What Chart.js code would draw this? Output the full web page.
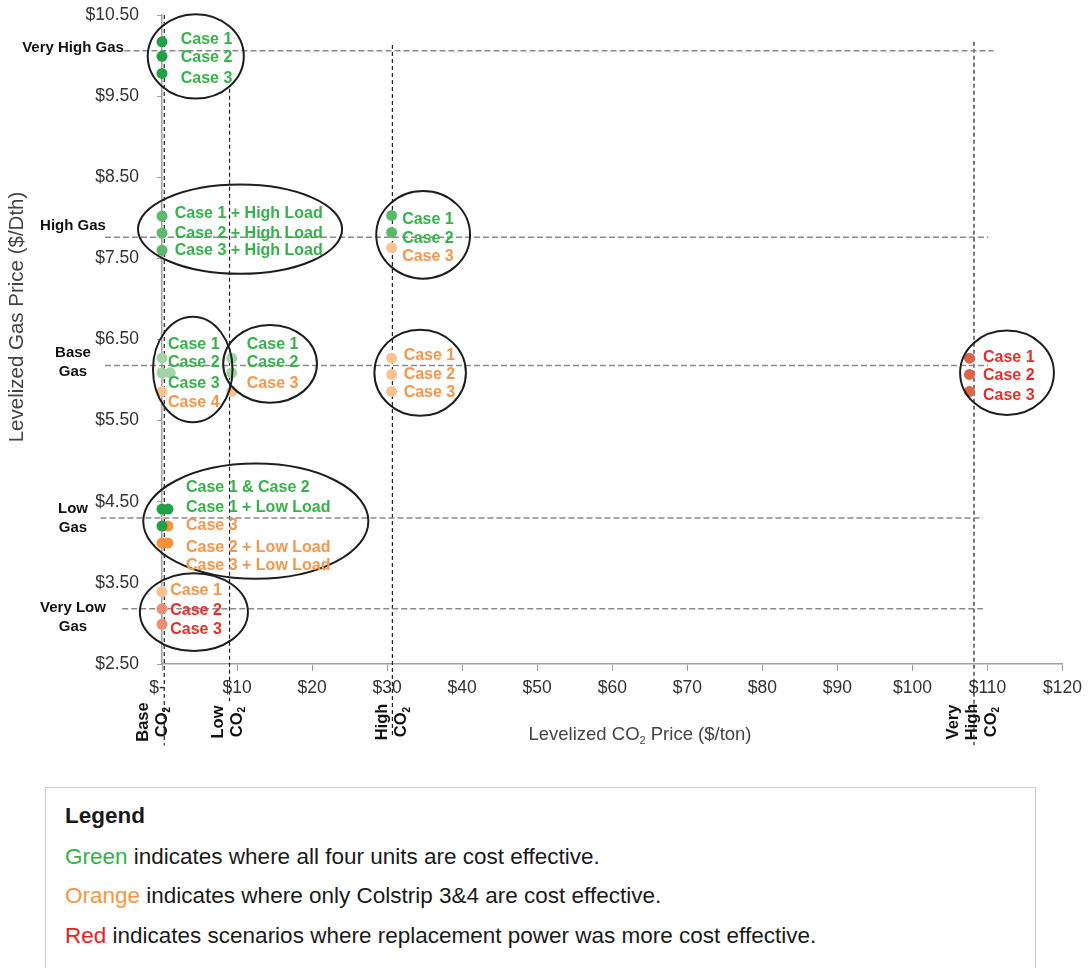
<!DOCTYPE html>
<html>
<head>
<meta charset="utf-8">
<script src="https://cdn.jsdelivr.net/npm/chart.js@4.4.1/dist/chart.umd.min.js"></script>
<style>
  body { margin: 0; background: #fff; font-family: "Liberation Sans", Arial, sans-serif; }
  #wrap { position: relative; width: 1089px; height: 968px; overflow: hidden; }
  #chart { position: absolute; left: 0; top: 0; }
  #legend { position: absolute; left: 45px; top: 787px; width: 991px; height: 240px; border: 1px solid #cfcfcf; box-sizing: border-box; color: #1a1a1a; }
  #legend div { position: absolute; left: 19px; font-size: 22.5px; white-space: nowrap; line-height: 26px; }
  #legend .head { font-weight: bold; top: 15px; }
</style>
</head>
<body>
<div id="wrap">
  <canvas id="chart" width="1089" height="780"></canvas>
  <div id="legend">
    <div class="head">Legend</div>
    <div style="top:56px"><span style="color:#35b04a">Green</span> indicates where all four units are cost effective.</div>
    <div style="top:95px"><span style="color:#f7963f">Orange</span> indicates where only Colstrip 3&amp;4 are cost effective.</div>
    <div style="top:135px"><span style="color:#ec1c24">Red</span> indicates scenarios where replacement power was more cost effective.</div>
  </div>
</div>
<script>
// ticks
var xTickVals = [0, 10, 20, 30, 40, 50, 60, 70, 80, 90, 100, 110, 120];
var yTickVals = [2.5, 3.5, 4.5, 5.5, 6.5, 7.5, 8.5, 9.5, 10.5];

// scenario points, grouped by colour shade
var darkGreenX = [0, 0, 0, 0, 0.8, 0];
var darkGreenY = [10.17, 9.99, 9.78, 4.41, 4.41, 4.20];
var midGreenX = [0, 0, 0, 30.6, 30.6];
var midGreenY = [8.02, 7.81, 7.60, 8.03, 7.82];
var lightGreenX = [0, 0, 1.1, 9.3, 9.3];
var lightGreenY = [6.27, 6.09, 6.09, 6.27, 6.09];
var darkOrangeX = [0.8, 0, 0.8];
var darkOrangeY = [4.20, 3.99, 3.99];
var lightOrangeX = [0, 9.3, 30.6, 30.6, 30.6, 30.6, 0];
var lightOrangeY = [5.86, 5.86, 7.63, 6.27, 6.07, 5.86, 3.39];
var redX = [107.6, 107.6, 107.6];
var redY = [6.27, 6.07, 5.86];
var salmonX = [0, 0];
var salmonY = [3.18, 2.99];

// scenario reference levels
var gasLevels = [10.06, 7.76, 6.18, 4.30, 3.18];
var gasNames = [['Very High Gas'], ['High Gas'], ['Base', 'Gas'], ['Low', 'Gas'], ['Very Low', 'Gas']];
var gasNameY = [10.09, 7.90, 6.22, 4.30, 3.08];
var gasLineFrom = [-5, -7.6, -7.6, -8.2, -5.3];
var gasLineTo = [110.8, 110.1, 110.1, 109.4, 109.4];

var co2Levels = [0.3, 9.0, 30.7, 108.2];
var co2Names = [['Base', 'CO2'], ['Low', 'CO2'], ['High', 'CO2'], ['Very', 'High', 'CO2']];
var co2NameX = [-1.2, 8.8, 30.7, 108.0];
var co2LineTop = [10.5, 9.59, 10.13, 10.17];
var co2LineBottom = [1.5, 2.04, 1.6, 1.5];

// case labels
var labelText = [
  'Case 1', 'Case 2', 'Case 3',
  'Case 1 + High Load', 'Case 2 + High Load', 'Case 3 + High Load',
  'Case 1', 'Case 2', 'Case 3',
  'Case 1', 'Case 2', 'Case 3', 'Case 4',
  'Case 1', 'Case 2', 'Case 3',
  'Case 1', 'Case 2', 'Case 3',
  'Case 1', 'Case 2', 'Case 3',
  'Case 1 & Case 2', 'Case 1 + Low Load', 'Case 3', 'Case 2 + Low Load', 'Case 3 + Low Load',
  'Case 1', 'Case 2', 'Case 3'
];
var labelX = [
  2.5, 2.5, 2.5,
  1.7, 1.7, 1.7,
  32.0, 32.0, 32.0,
  0.8, 0.8, 0.8, 0.8,
  11.3, 11.3, 11.3,
  32.2, 32.2, 32.2,
  109.4, 109.4, 109.4,
  3.2, 3.2, 3.2, 3.2, 3.2,
  1.1, 1.1, 1.1
];
var labelY = [
  10.20, 9.97, 9.72,
  8.05, 7.81, 7.59,
  7.98, 7.75, 7.52,
  6.44, 6.21, 5.96, 5.72,
  6.44, 6.21, 5.96,
  6.30, 6.07, 5.84,
  6.28, 6.05, 5.81,
  4.67, 4.43, 4.20, 3.94, 3.71,
  3.40, 3.16, 2.93
];
var labelTone = [
  'g', 'g', 'g',
  'g', 'g', 'g',
  'g', 'g', 'o',
  'g', 'g', 'g', 'o',
  'g', 'g', 'o',
  'o', 'o', 'o',
  'r', 'r', 'r',
  'g', 'g', 'o', 'o', 'o',
  'o', 'r', 'r'
];

// circles around the groups (centre and radii in axis units)
var ringX = [4.5, 10.4, 34.8, 4.1, 14.4, 34.4, 112.6, 12.5, 4.25];
var ringY = [9.99, 7.86, 7.79, 6.13, 6.20, 6.09, 6.09, 4.26, 3.14];
var ringRx = [6.4, 13.6, 6.25, 5.3, 6.25, 6.1, 6.25, 15.0, 7.2];
var ringRy = [0.52, 0.55, 0.54, 0.65, 0.48, 0.53, 0.52, 0.71, 0.48];

var toneColor = { g: '#37b24a', o: '#f7964a', r: '#e2302b' };
var FONT = '"Liberation Sans", Arial, sans-serif';

function pts(xs, ys) {
  return xs.map(function (x, i) { return { x: x, y: ys[i] }; });
}

function dotSet(xs, ys, color) {
  return { data: pts(xs, ys), backgroundColor: color, borderWidth: 0, pointRadius: 5.5, clip: false, order: 1 };
}

var datasets = [];
gasLevels.forEach(function (g, i) {
  datasets.push({
    data: [{ x: gasLineFrom[i], y: g }, { x: gasLineTo[i], y: g }],
    showLine: true, pointRadius: 0, borderColor: '#8a8a8a', borderWidth: 1.5,
    borderDash: [6, 3], clip: false, order: 10
  });
});
co2Levels.forEach(function (c, i) {
  datasets.push({
    data: [{ x: c, y: co2LineTop[i] }, { x: c, y: co2LineBottom[i] }],
    showLine: true, pointRadius: 0, borderColor: '#222', borderWidth: 1.2,
    borderDash: [4, 3], clip: false, order: 10
  });
});
datasets.push(dotSet(darkGreenX, darkGreenY, '#22a045'));
datasets.push(dotSet(midGreenX, midGreenY, '#5cb96c'));
datasets.push(dotSet(lightGreenX, lightGreenY, '#a3d4a8'));
datasets.push(dotSet(darkOrangeX, darkOrangeY, '#f6913c'));
datasets.push(dotSet(lightOrangeX, lightOrangeY, '#f9c293'));
datasets.push(dotSet(redX, redY, '#e0604a'));
datasets.push(dotSet(salmonX, salmonY, '#ee8d74'));

// text with a subscript "2" after CO
function drawCO2Text(ctx, str, x, y, size, weight) {
  var parts = str.split('CO2');
  var segs = [];
  parts.forEach(function (p, i) {
    if (i > 0) { segs.push(['CO', false]); segs.push(['2', true]); }
    if (p) segs.push([p, false]);
  });
  var big = weight + ' ' + size + 'px ' + FONT;
  var small = weight + ' ' + Math.round(size * 0.62) + 'px ' + FONT;
  var total = 0;
  segs.forEach(function (s) { ctx.font = s[1] ? small : big; total += ctx.measureText(s[0]).width; });
  var cx = x - total / 2;
  ctx.textAlign = 'left';
  segs.forEach(function (s) {
    ctx.font = s[1] ? small : big;
    ctx.fillText(s[0], cx, s[1] ? y + size * 0.3 : y);
    cx += ctx.measureText(s[0]).width;
  });
}

var annotations = {
  id: 'annotations',
  afterDatasetsDraw: function (chart) {
    var ctx = chart.ctx, xs = chart.scales.x, ys = chart.scales.y;
    ctx.save();

    ctx.strokeStyle = '#1e1e1e';
    ctx.lineWidth = 2;
    for (var i = 0; i < ringX.length; i++) {
      var cx = xs.getPixelForValue(ringX[i]), cy = ys.getPixelForValue(ringY[i]);
      var rx = Math.abs(xs.getPixelForValue(ringX[i] + ringRx[i]) - cx);
      var ry = Math.abs(ys.getPixelForValue(ringY[i] + ringRy[i]) - cy);
      ctx.beginPath();
      ctx.ellipse(cx, cy, rx, ry, 0, 0, 2 * Math.PI);
      ctx.stroke();
    }

    ctx.font = 'bold 16px ' + FONT;
    ctx.textAlign = 'left';
    ctx.textBaseline = 'middle';
    for (var j = 0; j < labelText.length; j++) {
      ctx.fillStyle = toneColor[labelTone[j]];
      ctx.fillText(labelText[j], xs.getPixelForValue(labelX[j]), ys.getPixelForValue(labelY[j]));
    }

    // gas scenario names on the left
    ctx.fillStyle = '#111';
    ctx.font = 'bold 15px ' + FONT;
    ctx.textAlign = 'center';
    gasNames.forEach(function (lines, k) {
      var y0 = ys.getPixelForValue(gasNameY[k]) - (lines.length - 1) * 9.5;
      lines.forEach(function (t, n) { ctx.fillText(t, 73, y0 + n * 19); });
    });

    // CO2 scenario names under the x axis, rotated
    co2Names.forEach(function (lines, k) {
      var gx = xs.getPixelForValue(co2NameX[k]);
      ctx.save();
      ctx.translate(gx - (lines.length - 1) * 9.5, 722);
      ctx.rotate(-Math.PI / 2);
      lines.forEach(function (t, n) {
        ctx.save();
        ctx.translate(0, n * 19);
        drawCO2Text(ctx, t, 0, 0, 16.5, 'bold');
        ctx.restore();
      });
      ctx.restore();
    });

    // axis titles
    ctx.fillStyle = '#444';
    drawCO2Text(ctx, 'Levelized CO2 Price ($/ton)', 640, 735, 18.5, 'normal');
    ctx.translate(17, 317);
    ctx.rotate(-Math.PI / 2);
    drawCO2Text(ctx, 'Levelized Gas Price ($/Dth)', 0, 0, 20.5, 'normal');

    ctx.restore();
  }
};

new Chart(document.getElementById('chart'), {
  type: 'scatter',
  data: { datasets: datasets },
  plugins: [annotations],
  options: {
    responsive: false,
    animation: false,
    layout: { padding: { left: 0, top: 15, right: 25, bottom: 0 } },
    plugins: { legend: { display: false }, tooltip: { enabled: false } },
    scales: {
      x: {
        type: 'linear', min: 0, max: 120,
        afterBuildTicks: function (scale) { scale.ticks = xTickVals.map(function (v) { return { value: v }; }); },
        afterFit: function (scale) { scale.height = 116; },
        grid: { drawOnChartArea: false, drawTicks: true, tickLength: 7, color: '#a0a0a0' },
        border: { color: '#a0a0a0', width: 1.5 },
        ticks: {
          autoSkip: false, maxRotation: 0, padding: 7, color: '#333',
          font: { family: FONT, size: 17.5 },
          callback: function (v) { return v === 0 ? '$-  ' : '$' + v; }
        }
      },
      y: {
        type: 'linear', min: 2.5, max: 10.5,
        afterBuildTicks: function (scale) { scale.ticks = yTickVals.map(function (v) { return { value: v }; }); },
        afterFit: function (scale) {
          scale.width = 162;
          scale.paddingTop = 11;
          scale.paddingBottom = 11;
        },
        grid: { drawOnChartArea: false, drawTicks: true, tickLength: 5, color: '#a0a0a0' },
        border: { color: '#a0a0a0', width: 1.5 },
        ticks: {
          autoSkip: false, padding: 18, color: '#333',
          font: { family: FONT, size: 17.5 },
          callback: function (v) { return '$' + Number(v).toFixed(2); }
        }
      }
    }
  }
});
</script>
</body>
</html>
